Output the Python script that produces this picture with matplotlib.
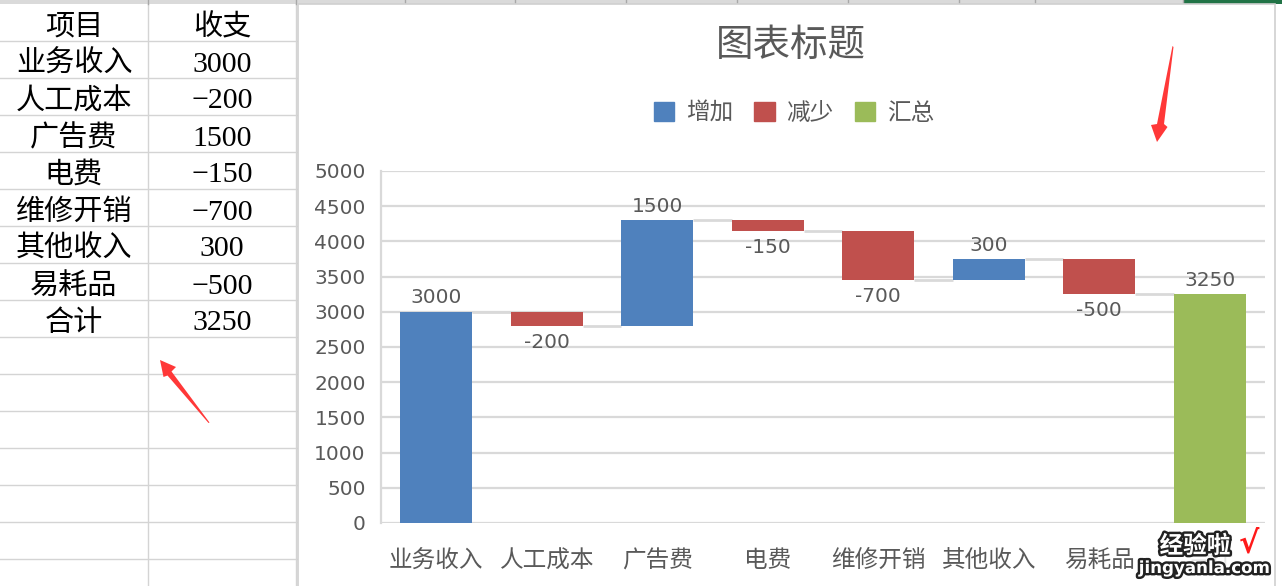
import matplotlib
matplotlib.use("Agg")
import matplotlib.pyplot as plt
from matplotlib.patches import Patch, Polygon, Rectangle
import matplotlib.patheffects as pe

# sheet data
header = ["项目", "收支"]
items = ["业务收入", "人工成本", "广告费", "电费", "维修开销", "其他收入", "易耗品", "合计"]
values = [3000, -200, 1500, -150, -700, 300, -500, 3250]
legend_names = ["增加", "减少", "汇总"]
yticks = [0, 500, 1000, 1500, 2000, 2500, 3000, 3500, 4000, 4500, 5000]

BLUE, RED, GREEN = "#4F81BD", "#C0504D", "#9BBB59"
GRID = "#d9d9d9"
TXT = "#595959"
CJK = ["Noto Sans CJK SC", "DejaVu Sans"]
SERIF = ["Liberation Serif", "Noto Sans CJK SC"]

W, H = 1282, 586
fig = plt.figure(figsize=(W / 100, H / 100), dpi=100)

# background: spreadsheet cells, in pixel coords
bg = fig.add_axes([0, 0, 1, 1])
bg.set_xlim(0, W)
bg.set_ylim(H, 0)
bg.axis("off")

row_h = 37
top = 4
for k in range(16):
    y = top + row_h * (k + 1)
    bg.plot([0, 298], [y, y], color="#d4d4d4", lw=1)
for x in [148, 296]:
    bg.plot([x, x], [top, H], color="#d4d4d4", lw=1)
bg.add_patch(Rectangle((0, 0), W, 3.5, color="#dadada", lw=0))
for x in [148, 296, 405, 515, 626, 737, 848, 959, 1035, 1183]:
    bg.plot([x, x], [0, 3.5], color="#a8a8a8", lw=1)
bg.add_patch(Rectangle((1183, 0), W - 1183, 3.5, color="#217346", lw=0))

# table text
shift = 5
bg.text(74, top + row_h * 0.5 + shift, header[0], ha="center", va="center",
        fontsize=21, family=SERIF, color="black")
bg.text(222, top + row_h * 0.5 + shift, header[1], ha="center", va="center",
        fontsize=21, family=SERIF, color="black")
for i, (name, v) in enumerate(zip(items, values)):
    yc = top + row_h * (i + 1.5) + shift
    bg.text(74, yc, name, ha="center", va="center", fontsize=21,
            family=SERIF, color="black")
    bg.text(222, yc, str(v).replace("-", "\u2212"), ha="center", va="center",
            fontsize=21.5, family=SERIF, color="black")

# chart area
bg.add_patch(Rectangle((298, 4), 977, H, facecolor="white",
                       edgecolor="#d0d0d0", lw=1.2, zorder=3))

# waterfall
n = len(values)
bottoms, heights, colors, ends = [], [], [], []
run = 0
for i, v in enumerate(values):
    if i == n - 1:
        bottoms.append(0)
        heights.append(v)
        colors.append(GREEN)
        ends.append(v)
    else:
        bottoms.append(run if v >= 0 else run + v)
        heights.append(abs(v))
        colors.append(BLUE if v >= 0 else RED)
        run += v
        ends.append(run)

ax = fig.add_axes([381 / W, (H - 523) / H, 884 / W, 352 / H])
ax.set_facecolor("none")
ax.set_zorder(5)
ax.set_xlim(-0.5, n - 0.5)
ax.set_ylim(0, 5000)
bw = 0.65
ax.bar(range(n), heights, bottom=bottoms, width=bw, color=colors, zorder=3)

for i in range(n - 1):
    ax.plot([i + bw / 2, i + 1 - bw / 2], [ends[i], ends[i]],
            color=GRID, lw=2, zorder=2, solid_capstyle="butt")

for i, v in enumerate(values):
    if v >= 0:
        ax.annotate(str(v), (i, bottoms[i] + heights[i]), xytext=(0, 10),
                    textcoords="offset points", ha="center", va="center",
                    fontsize=14.5, color=TXT)
    else:
        ax.annotate(str(v), (i, bottoms[i]), xytext=(0, -12),
                    textcoords="offset points", ha="center", va="center",
                    fontsize=14.5, color=TXT)

ax.set_yticks(yticks)
ax.set_yticklabels([str(t) for t in yticks], fontsize=14.5, color=TXT)
ax.set_xticks(range(n))
ax.set_xticklabels(items, fontsize=17, color=TXT, family=CJK)
ax.tick_params(axis="both", length=0)
ax.tick_params(axis="y", pad=11)
ax.tick_params(axis="x", pad=19)
ax.yaxis.grid(True, color=GRID, lw=1.6, zorder=0)
ax.set_axisbelow(True)
for s in ["top", "right", "bottom"]:
    ax.spines[s].set_visible(False)
ax.spines["left"].set_color(GRID)
ax.spines["left"].set_linewidth(1.6)

fig.text(791 / W, 1 - 45 / H, "图表标题", ha="center", va="center",
         fontsize=27, color=TXT, family=CJK, zorder=6)
handles = [Patch(color=c) for c in [BLUE, RED, GREEN]]
leg = fig.legend(handles, legend_names, loc="center",
                 bbox_to_anchor=(794 / W, 1 - 113 / H), ncol=3, frameon=False,
                 handlelength=0.85, handleheight=0.85,
                 handletextpad=0.5, columnspacing=0.9,
                 prop={"family": CJK, "size": 17})
for t in leg.get_texts():
    t.set_color(TXT)
leg.set_zorder(6)

# overlay: arrows and watermark
ov = fig.add_axes([0, 0, 1, 1])
ov.set_zorder(10)
ov.set_facecolor("none")
ov.set_xlim(0, W)
ov.set_ylim(H, 0)
ov.axis("off")
ov.add_patch(Polygon([(1172.5, 46), (1173.5, 47), (1164, 124), (1167.5, 127),
                      (1157, 142), (1151, 125), (1157, 124)],
                     closed=True, color="#ff3838", lw=0))
ov.add_patch(Polygon([(160, 360), (176, 367), (171.5, 371.5), (209.5, 422.5),
                      (208.5, 423), (167.5, 375.5), (163.5, 377)],
                     closed=True, color="#ff3838", lw=0))

ov.add_patch(Rectangle((1143, 533), 124, 47, facecolor="white", alpha=0.85, lw=0))
stroke = [pe.withStroke(linewidth=3.5, foreground="#222222")]
ov.text(1195, 546, "经验啦", ha="center", va="center", fontsize=17,
        fontweight="bold", color="white", family=CJK, path_effects=stroke)
ov.text(1249, 544, "\u221a", ha="center", va="center", fontsize=22,
        fontweight="bold", color="#ff1a1a")
ov.text(1204, 568, "jingyanla.com", ha="center", va="center", fontsize=12,
        fontweight="bold", color="white", path_effects=stroke)

fig.savefig("out.png", dpi=100)
